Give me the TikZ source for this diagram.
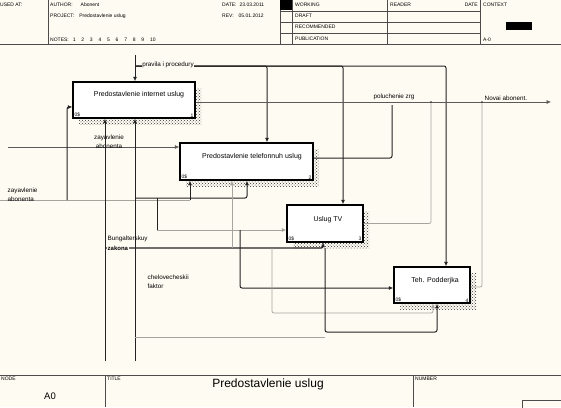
\documentclass[tikz,border=0pt]{standalone}
\usepackage{fontspec}
\setmainfont{Liberation Sans}
\usetikzlibrary{arrows.meta,patterns,shadows}
\definecolor{paper}{RGB}{253,251,242}
\definecolor{wire}{RGB}{165,165,160}
\definecolor{ink}{RGB}{35,35,35}
\tikzset{
  tiny/.style={font=\fontsize{5}{6}\selectfont,inner sep=0pt},
  lbl/.style={font=\fontsize{6.3}{9}\selectfont,inner sep=0.5pt},
  boxtxt/.style={font=\fontsize{7}{8}\selectfont,inner sep=0pt},
  act/.style={draw,line width=1.4pt,fill=white,inner sep=0pt,
    general shadow={shadow xshift=6pt,shadow yshift=-6pt,pattern=crosshatch dots,pattern color=black!80}},
  blk/.style={ink,line width=1pt,rounded corners=2pt},
  dk/.style={ink!75,line width=0.6pt},
  gry/.style={wire,line width=0.7pt,rounded corners=2pt},
  arr/.style={-{Latex[length=4.5pt,width=4pt]}},
  frame/.style={line width=0.6pt,black!70},
}
\begin{document}
\begin{tikzpicture}[x=1pt,y=-1pt]
\fill[paper] (0,0) rectangle (561,407);
\useasboundingbox (0,0) rectangle (561,407);

\draw[frame] (0,44) -- (561,44) (48,0) -- (48,44);
\draw[frame] (280,0) -- (280,44) (292,0) -- (292,44) (387,0) -- (387,44) (480,0) -- (480,44);
\draw[frame] (280,11) -- (480,11) (280,22) -- (480,22) (280,33) -- (480,33);
\fill[black] (280,0) rectangle (292,10);
\fill[black] (506,22) rectangle (532,30);
\node[tiny,anchor=west] (usedat) at (0,5) {USED AT:};
\node[tiny,anchor=west] (author) at (50,5) {AUTHOR:\hspace{8pt}Abonent};
\node[tiny,anchor=west] (project) at (50,16) {PROJECT:\hspace{5pt}Predostavlenie uslug};
\node[tiny,anchor=west] (notes) at (50,40) {NOTES:\hspace{4pt}1\hspace{5.8pt}2\hspace{5.8pt}3\hspace{5.8pt}4\hspace{5.8pt}5\hspace{5.8pt}6\hspace{5.8pt}7\hspace{5.8pt}8\hspace{5.8pt}9\hspace{5.8pt}10};
\node[tiny,anchor=west] (date) at (222,5) {DATE:\hspace{3pt}23.03.2011};
\node[tiny,anchor=west] (rev) at (222,16) {REV:\hspace{5pt}05.01.2012};
\node[tiny,anchor=west] (working) at (295,5) {WORKING};
\node[tiny,anchor=west] (draft) at (295,16) {DRAFT};
\node[tiny,anchor=west] (recom) at (295,27) {RECOMMENDED};
\node[tiny,anchor=west] (publ) at (295,39) {PUBLICATION};
\node[tiny,anchor=west] (reader) at (390,5) {READER};
\node[tiny,anchor=east] (rdate) at (478,5) {DATE};
\node[tiny,anchor=west] (context) at (483,5) {CONTEXT};
\node[tiny,anchor=west] (ctxnode) at (483,40) {A-0};

\draw[frame] (0,375) -- (561,375) (105,375) -- (105,407) (413,375) -- (413,407);
\draw[frame] (522,400) rectangle (562,408);
\node[tiny,anchor=north west] (nodehd) at (1,377) {NODE};
\node[font=\fontsize{9.5}{10}\selectfont] (nodeno) at (50,396) {A0};
\node[tiny,anchor=north west] (titlehd) at (107,377) {TITLE};
\node[font=\fontsize{12}{14}\selectfont] (title) at (268,384) {Predostavlenie uslug};
\node[tiny,anchor=north west] (numhd) at (415,377) {NUMBER};

\node[act,minimum width=122pt,minimum height=36pt] (b1) at (134,100) {};
\node[act,minimum width=133pt,minimum height=37pt] (b2) at (246.5,161.5) {};
\node[act,minimum width=76pt,minimum height=37pt] (b3) at (325,223.5) {};
\node[act,minimum width=76pt,minimum height=36pt] (b4) at (432,285) {};
\node[boxtxt] (t1) at (139,95) {Predostavlenie internet uslug};
\node[boxtxt] (t2) at (252,157) {Predostavlenie telefonnuh uslug};
\node[boxtxt] (t3) at (328,220) {Uslug TV};
\node[boxtxt] (t4) at (435,281) {Teh. Podderjka};
\node[tiny,anchor=south west] (c1) at ([shift={(2pt,1.5pt)}]b1.south west) {0\$};
\node[tiny,anchor=south west] (c2) at ([shift={(2pt,1.5pt)}]b2.south west) {0\$};
\node[tiny,anchor=south west] (c3) at ([shift={(2pt,1.5pt)}]b3.south west) {0\$};
\node[tiny,anchor=south west] (c4) at ([shift={(2pt,1.5pt)}]b4.south west) {0\$};
\node[tiny,anchor=south east] (n1) at ([shift={(-2pt,1.5pt)}]b1.south east) {1};
\node[tiny,anchor=south east] (n2) at ([shift={(-2pt,1.5pt)}]b2.south east) {2};
\node[tiny,anchor=south east] (n3) at ([shift={(-2pt,1.5pt)}]b3.south east) {3};
\node[tiny,anchor=south east] (n4) at ([shift={(-2pt,1.5pt)}]b4.south east) {4};

\coordinate (ctop) at (135,55);
\coordinate (cj) at (135,66);
\draw[blk,arr] (ctop) -- (ctop |- b1.north);
\draw[blk,arr] (cj) -| ([xshift=20.5pt]b2.north);
\draw[blk,arr] (cj) -| ([xshift=18pt]b3.north);
\draw[blk,arr] (cj) -| ([xshift=14pt]b4.north);
\node[lbl,fill=paper] (rules) at (168,65) {pravila i procedury};

\coordinate (out) at (551,102);
\coordinate (j2) at (392,105);
\coordinate (j3) at (431,102);
\coordinate (j4) at (482,102);
\draw[dk,arr] ([yshift=-2pt]b1.east) -- (out);
\draw[blk] ([yshift=3.5pt]b2.east) -| (j2);
\draw[gry] (b3.east) -| (j3);
\draw[gry] ([yshift=-2pt]b4.east) -| (j4);
\fill[ink] (j3) circle (0.9pt) (j4) circle (0.9pt);
\node[lbl,anchor=south] (resout) at (394,101) {poluchenie zrg};
\node[lbl,anchor=south west] (newab) at (484,101) {Novai abonent.};

\coordinate (in1) at (8,147);
\draw[dk,arr] (in1) -- (in1 -| b2.west);
\node[lbl,align=center,anchor=south] (req1) at (109,149) {zayavlenie\\abonenta};
\coordinate (in2) at (0,200);
\coordinate (k1) at (67,200);
\coordinate (k2) at (190,200);
\draw[gry] (in2) -- (k2);
\draw[blk,arr] (k1) |- ([yshift=-7pt]b1.west);
\draw[blk,arr] (k2) -- (k2 |- b2.south);
\node[lbl,align=left,anchor=south west] (req2) at (7,202) {zayavlenie\\abonenta};

\coordinate (m1) at (105,361);
\coordinate (m2) at (135,361);
\draw[blk,arr] (m1) -- (m1 |- b1.south);
\draw[blk,arr] (m2) -- (m2 |- b1.south);
\coordinate (k3) at (135,198);
\draw[blk,arr] (k3) -| ([xshift=0.5pt]b2.south);
\coordinate (k4) at (157,198);
\coordinate (k5) at (157,230);
\draw[blk] (k4) -- (k5);
\draw[gry,arr] (k5) -- (k5 -| b3.west);
\coordinate (k6) at (240,230);
\draw[blk,arr] (k6) |- ([yshift=-3pt]b4.west);
\coordinate (k7) at (105,248);
\draw[blk,line width=1.2pt,arr] (k7) -| ([xshift=-2pt]b3.south);
\coordinate (k8) at (232,248);
\draw[gry,arr] (k8) -- (k8 |- b2.south);
\coordinate (k9) at (272,248);
\coordinate (k10) at (272,313);
\draw[gry,arr] (k9) -- (k10) -| ([xshift=1pt]b4.south);
\coordinate (k11) at (325,248);
\coordinate (k12) at (325,332);
\draw[blk,arr] (k11) -- (k12) -| ([xshift=5pt]b4.south);
\coordinate (k13) at (135,337);
\draw[gry] (k13) -- (k13 -| k12);
\node[lbl,anchor=west] (acct) at (107,239) {Bungalterskuy};
\node[lbl,anchor=west,fill=paper,font=\fontsize{6}{7}\bfseries] (acct2) at (107,248) {zakona};
\node[lbl,align=left,anchor=west] (human) at (147,282) {chelovecheskii\\faktor};
\end{tikzpicture}
\end{document}
